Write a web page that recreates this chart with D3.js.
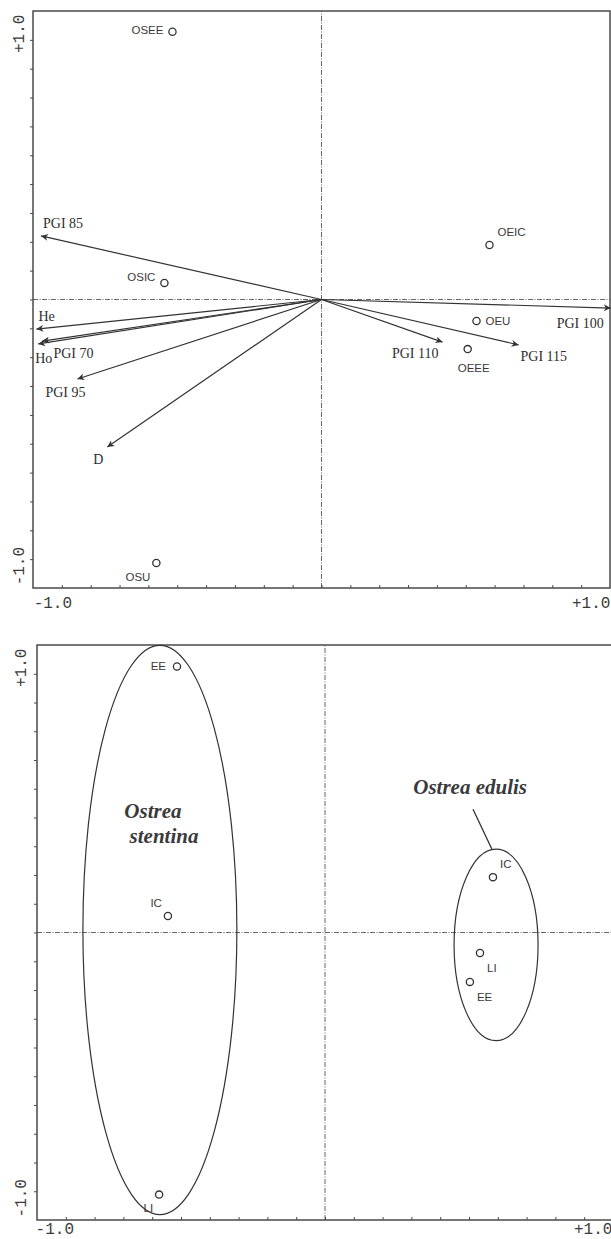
<!DOCTYPE html>
<html>
<head>
<meta charset="utf-8">
<script src="https://cdn.jsdelivr.net/npm/d3@7"></script>
<style>
  body { margin: 0; background: #fff; }
  svg { display: block; }
</style>
</head>
<body>
<svg id="chart" width="611" height="1239"></svg>
<script>
// upper plot: populations (circles) and variables (arrows)
const siteNames = ["OSEE", "OSIC", "OSU", "OEIC", "OEU", "OEEE"];
const siteX = [-0.574, -0.605, -0.636, 0.647, 0.597, 0.563];
const siteY = [1.031, 0.064, -1.015, 0.210, -0.083, -0.191];

const varNames = ["PGI 85", "He", "Ho", "PGI 70", "PGI 95", "D", "PGI 100", "PGI 110", "PGI 115"];
const varX = [-1.080, -1.098, -1.091, -1.075, -0.940, -0.825, 1.114, 0.466, 0.759];
const varY = [0.245, -0.114, -0.171, -0.160, -0.306, -0.568, -0.033, -0.164, -0.175];

// lower plot: populations grouped by species
const popNames = ["EE", "IC", "LI", "IC", "LI", "EE"];
const popX = [-0.571, -0.606, -0.640, 0.648, 0.598, 0.559];
const popY = [1.028, 0.064, -1.013, 0.214, -0.079, -0.191];

const speciesNames = ["Ostrea stentina", "Ostrea edulis"];
const speciesCx = [-0.637, 0.660];
const speciesCy = [0.010, -0.048];
const speciesRx = [0.297, 0.162];
const speciesRy = [1.100, 0.370];

const axisLabels = ["-1.0", "+1.0"];
const tickStep = 1 / 9;

// label placement (pixels, relative to the mark)
const siteLabelPos = [
  { dx: -9, dy: 2, anchor: "end" },
  { dx: -9, dy: -2, anchor: "end" },
  { dx: -6, dy: 18, anchor: "end" },
  { dx: 8, dy: -9, anchor: "start" },
  { dx: 9, dy: 4, anchor: "start" },
  { dx: 6, dy: 23, anchor: "middle" }
];
const varLabelPos = [
  { dx: 2, dy: -8, anchor: "start" },
  { dx: 2, dy: -8, anchor: "start" },
  { dx: -3, dy: 19, anchor: "start" },
  { dx: 11, dy: 17, anchor: "start" },
  { dx: -12, dy: 18, anchor: "middle" },
  { dx: -9, dy: 17, anchor: "middle" },
  { dx: -7, dy: 20, anchor: "end" },
  { dx: -4, dy: 16, anchor: "end" },
  { dx: 2, dy: 16, anchor: "start" }
];
const popLabelPos = [
  { dx: -11, dy: 3, anchor: "end" },
  { dx: -6, dy: -9, anchor: "end" },
  { dx: -6, dy: 17, anchor: "end" },
  { dx: 7, dy: -9, anchor: "start" },
  { dx: 7, dy: 19, anchor: "start" },
  { dx: 7, dy: 19, anchor: "start" }
];

const ink = "#333";
const lim = 10 / 9;
const svg = d3.select("#chart");

svg.append("defs")
  .append("marker")
    .attr("id", "head")
    .attr("viewBox", "0 0 10 10")
    .attr("refX", 10)
    .attr("refY", 5)
    .attr("markerWidth", 8)
    .attr("markerHeight", 7)
    .attr("markerUnits", "userSpaceOnUse")
    .attr("orient", "auto")
  .append("path")
    .attr("d", "M0,0L10,5L0,10L3,5Z")
    .attr("fill", ink);

function drawFrame(left, right, top, bottom, lbl) {
  const x = d3.scaleLinear().domain([-lim, lim]).range([left, right]);
  const y = d3.scaleLinear().domain([-lim, lim]).range([bottom, top]);
  const g = svg.append("g");
  const ticks = d3.range(-9, 10).map(i => i * tickStep);

  // dashed zero lines
  g.append("line")
      .attr("x1", x(-lim)).attr("x2", x(lim))
      .attr("y1", y(0)).attr("y2", y(0));
  g.append("line")
      .attr("x1", x(0)).attr("x2", x(0))
      .attr("y1", y(-lim)).attr("y2", y(lim));
  g.selectAll("line")
      .attr("stroke", "#666")
      .attr("stroke-width", 1)
      .attr("stroke-dasharray", "5,1.5,1,1.5");

  g.append("rect")
      .attr("x", left).attr("y", top)
      .attr("width", right - left).attr("height", bottom - top)
      .attr("fill", "none")
      .attr("stroke", "#4a4a4a")
      .attr("stroke-width", 1.5);

  const yAxis = g.append("g")
      .attr("transform", `translate(${left},0)`)
      .call(d3.axisLeft(y).tickValues(ticks).tickSize(3).tickFormat(""));
  const xAxis = g.append("g")
      .attr("transform", `translate(0,${bottom})`)
      .call(d3.axisBottom(x).tickValues(ticks).tickSize(-3).tickFormat(""));
  [yAxis, xAxis].forEach(a => {
    a.select(".domain").remove();
    a.selectAll("line").attr("stroke", "#4a4a4a");
  });

  const font = t => t
      .attr("font-family", "'Liberation Mono', 'DejaVu Sans Mono', monospace")
      .attr("font-size", 16)
      .attr("fill", "#3a3a3a");

  g.selectAll(".xl")
      .data(axisLabels)
    .enter().append("text")
      .attr("x", (d, i) => x(i ? 1 : -1) + (i ? lbl.xr : lbl.xl))
      .attr("y", bottom + lbl.base)
      .attr("text-anchor", "middle")
      .text(d => d)
      .call(font);

  g.selectAll(".yl")
      .data(axisLabels)
    .enter().append("text")
      .attr("transform", (d, i) =>
        `translate(${lbl.yx},${y(i ? 1 : -1) + (i ? -6 : 7)}) rotate(-90)`)
      .attr("text-anchor", "middle")
      .attr("dominant-baseline", "central")
      .text(d => d)
      .call(font);

  return { x, y };
}

function drawPoints(sc, names, xs, ys, pos) {
  const data = names.map((n, i) => ({ name: n, x: xs[i], y: ys[i], p: pos[i] }));
  const g = svg.append("g");
  g.selectAll("circle")
      .data(data)
    .enter().append("circle")
      .attr("cx", d => sc.x(d.x))
      .attr("cy", d => sc.y(d.y))
      .attr("r", 3.6)
      .attr("fill", "#fff")
      .attr("stroke", ink)
      .attr("stroke-width", 1.3);
  g.selectAll("text")
      .data(data)
    .enter().append("text")
      .attr("x", d => sc.x(d.x) + d.p.dx)
      .attr("y", d => sc.y(d.y) + d.p.dy)
      .attr("text-anchor", d => d.p.anchor)
      .attr("font-family", "'Liberation Sans', Arial, sans-serif")
      .attr("font-size", 11.5)
      .attr("fill", "#3a3a3a")
      .text(d => d.name);
}

// ---- upper plot
const upper = drawFrame(33, 610, 11, 588, { xl: -9, xr: 10, base: 20, yx: 20 });

const vars = varNames.map((n, i) => ({ name: n, x: varX[i], y: varY[i], p: varLabelPos[i] }));
svg.append("g")
  .selectAll("line")
    .data(vars)
  .enter().append("line")
    .attr("x1", upper.x(0))
    .attr("y1", upper.y(0))
    .attr("x2", d => upper.x(d.x))
    .attr("y2", d => upper.y(d.y))
    .attr("stroke", ink)
    .attr("stroke-width", 1.2)
    .attr("marker-end", "url(#head)");

svg.append("g")
  .selectAll("text")
    .data(vars)
  .enter().append("text")
    .attr("x", d => upper.x(d.x) + d.p.dx)
    .attr("y", d => upper.y(d.y) + d.p.dy)
    .attr("text-anchor", d => d.p.anchor)
    .attr("font-family", "'Liberation Serif', 'Times New Roman', serif")
    .attr("font-size", 14)
    .attr("fill", "#2e2e2e")
    .text(d => d.name);

drawPoints(upper, siteNames, siteX, siteY, siteLabelPos);

// ---- lower plot
const lower = drawFrame(37, 613, 645, 1220, { xl: -11, xr: 9, base: 14, yx: 22 });

svg.append("g")
  .selectAll("ellipse")
    .data(speciesNames)
  .enter().append("ellipse")
    .attr("cx", (d, i) => lower.x(speciesCx[i]))
    .attr("cy", (d, i) => lower.y(speciesCy[i]))
    .attr("rx", (d, i) => lower.x(speciesRx[i]) - lower.x(0))
    .attr("ry", (d, i) => lower.y(0) - lower.y(speciesRy[i]))
    .attr("fill", "none")
    .attr("stroke", ink)
    .attr("stroke-width", 1.2);

drawPoints(lower, popNames, popX, popY, popLabelPos);

// species names
const species = svg.append("g")
    .attr("font-family", "'Liberation Serif', 'Times New Roman', serif")
    .attr("font-style", "italic")
    .attr("font-weight", "bold")
    .attr("font-size", 21)
    .attr("fill", "#3a3a3a")
    .attr("text-anchor", "middle");

const stentinaWords = speciesNames[0].split(" ");
species.append("text")
    .attr("x", lower.x(-0.664))
    .attr("y", lower.y(0.442))
    .text(stentinaWords[0]);
species.append("text")
    .attr("x", lower.x(-0.621))
    .attr("y", lower.y(0.345))
    .text(stentinaWords[1]);
species.append("text")
    .attr("x", lower.x(0.560))
    .attr("y", lower.y(0.534))
    .text(speciesNames[1]);

// leader from label to the O. edulis ellipse
svg.append("line")
    .attr("x1", lower.x(0.571))
    .attr("y1", lower.y(0.476))
    .attr("x2", lower.x(speciesCx[1] - 0.016))
    .attr("y2", lower.y(speciesCy[1] + speciesRy[1]))
    .attr("stroke", ink)
    .attr("stroke-width", 1.3);
</script>
</body>
</html>
